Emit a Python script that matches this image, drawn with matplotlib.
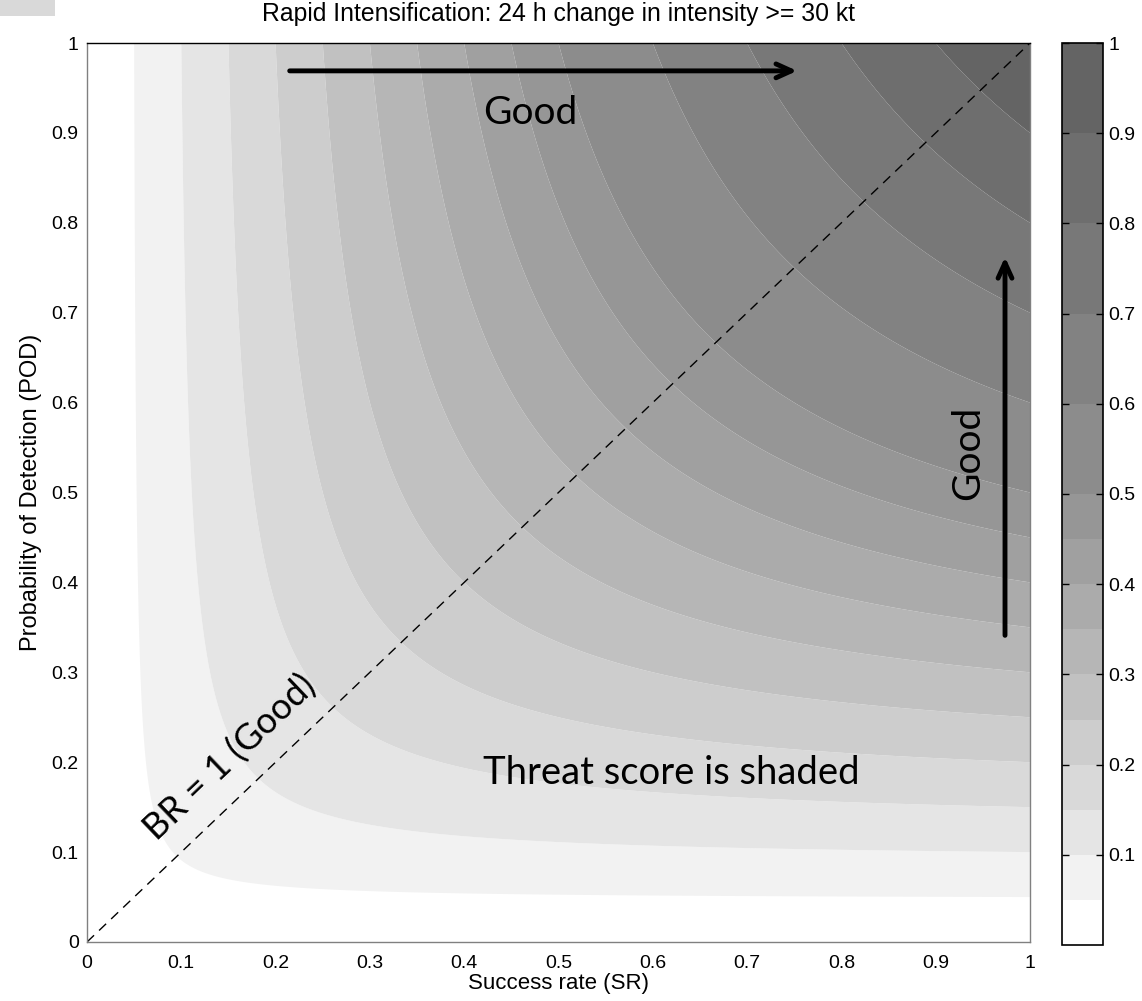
import numpy as np
import matplotlib
matplotlib.use("Agg")
import matplotlib.pyplot as plt
from matplotlib.colors import ListedColormap, BoundaryNorm
from matplotlib.patches import Rectangle

# ---- data ----
ts_levels = [0.0, 0.05, 0.10, 0.15, 0.20, 0.25, 0.30, 0.35, 0.40, 0.45, 0.50,
             0.60, 0.70, 0.80, 0.90, 1.0]
band_grays = [255, 242, 229, 217, 205, 193, 182, 171, 160, 150, 140,
              130, 120, 110, 100]
cbar_ticks = [0.1, 0.2, 0.3, 0.4, 0.5, 0.6, 0.7, 0.8, 0.9, 1.0]
cbar_ticklabels = ["0.1", "0.2", "0.3", "0.4", "0.5", "0.6", "0.7", "0.8", "0.9", "1"]
axis_ticks = [0, 0.1, 0.2, 0.3, 0.4, 0.5, 0.6, 0.7, 0.8, 0.9, 1.0]
axis_ticklabels = ["0", "0.1", "0.2", "0.3", "0.4", "0.5", "0.6", "0.7", "0.8", "0.9", "1"]
title_text = "Rapid Intensification: 24 h change in intensity >= 30 kt"
xlabel_text = "Success rate (SR)"
ylabel_text = "Probability of Detection (POD)"
bias_line_sr = [0.0, 1.0]
bias_line_pod = [0.0, 1.0]

plt.rcParams['font.family'] = ['Liberation Sans', 'DejaVu Sans']

W, H = 1142, 1001
fig = plt.figure(figsize=(W / 100, H / 100), dpi=100)

def box(x0, y0, x1, y1):
    return [x0 / W, 1 - y1 / H, (x1 - x0) / W, (y1 - y0) / H]

ax = fig.add_axes(box(87, 43, 1030, 942))
cax = fig.add_axes(box(1062, 43, 1103, 945))

# threat score field
sr = np.linspace(0.0005, 1, 600)
pod = np.linspace(0.0005, 1, 600)
SR, POD = np.meshgrid(sr, pod)
TS = 1.0 / (1.0 / SR + 1.0 / POD - 1.0)

cmap = ListedColormap([(g / 255, g / 255, g / 255) for g in band_grays])
norm = BoundaryNorm(ts_levels, cmap.N)
cf = ax.contourf(SR, POD, TS, levels=ts_levels, cmap=cmap, norm=norm, antialiased=True)

ax.plot(bias_line_sr, bias_line_pod, color='black', lw=1.0, ls=(0, (7, 5)))

ax.set_xlim(0, 1)
ax.set_ylim(0, 1)
ax.set_xticks(axis_ticks)
ax.set_xticklabels(axis_ticklabels)
ax.set_yticks(axis_ticks)
ax.set_yticklabels(axis_ticklabels)
ax.tick_params(length=0, labelsize=14)
ax.tick_params(axis='x', pad=9)
ax.tick_params(axis='y', pad=6)
for s in ['left', 'bottom', 'right']:
    ax.spines[s].set_color('#808080')
    ax.spines[s].set_linewidth(1.0)
ax.spines['top'].set_color('black')
ax.spines['top'].set_linewidth(1.0)

ax.set_title(title_text, fontsize=17.8, pad=16)
ax.set_xlabel(xlabel_text, fontsize=16, labelpad=1)
ax.set_ylabel(ylabel_text, fontsize=17, labelpad=7)

# annotations
ann_font = ['Lato', 'DejaVu Sans']
ax.annotate("", xy=(0.756, 0.969), xytext=(0.212, 0.969),
            arrowprops=dict(arrowstyle='->,head_length=1.1,head_width=0.5', lw=3.5, color='black'))
ax.annotate("", xy=(0.9735, 0.765), xytext=(0.9735, 0.338),
            arrowprops=dict(arrowstyle='->,head_length=1.1,head_width=0.5', lw=3.5, color='black'))
ax.text(0.47, 0.922, "Good", fontsize=28, family=ann_font, ha='center', va='center')
ax.text(0.934, 0.544, "Good", fontsize=28, family=ann_font, ha='center', va='center', rotation=90)
ax.text(0.62, 0.188, "Threat score is shaded", fontsize=27.5, family=ann_font, ha='center', va='center')
ax.text(0.152, 0.205, "BR = 1 (Good)", fontsize=26, family=ann_font, ha='center', va='center',
        rotation=43.6, rotation_mode='anchor')

# colorbar
cb = fig.colorbar(cf, cax=cax, spacing='proportional', ticks=cbar_ticks)
cb.set_ticklabels(cbar_ticklabels)
cb.minorticks_off()
cb.outline.set_edgecolor('black')
cb.outline.set_linewidth(1.2)
cax.yaxis.set_ticks_position('both')
cax.tick_params(direction='in', length=5, width=1, labelsize=14, labelright=True, labelleft=False, pad=4)

# small gray box in top-left corner
fig.patches.append(Rectangle((0, 1 - 16 / H), 55 / W, 16 / H, transform=fig.transFigure,
                             facecolor='#d9d9d9', edgecolor='none'))

fig.savefig("out.png", dpi=100)
